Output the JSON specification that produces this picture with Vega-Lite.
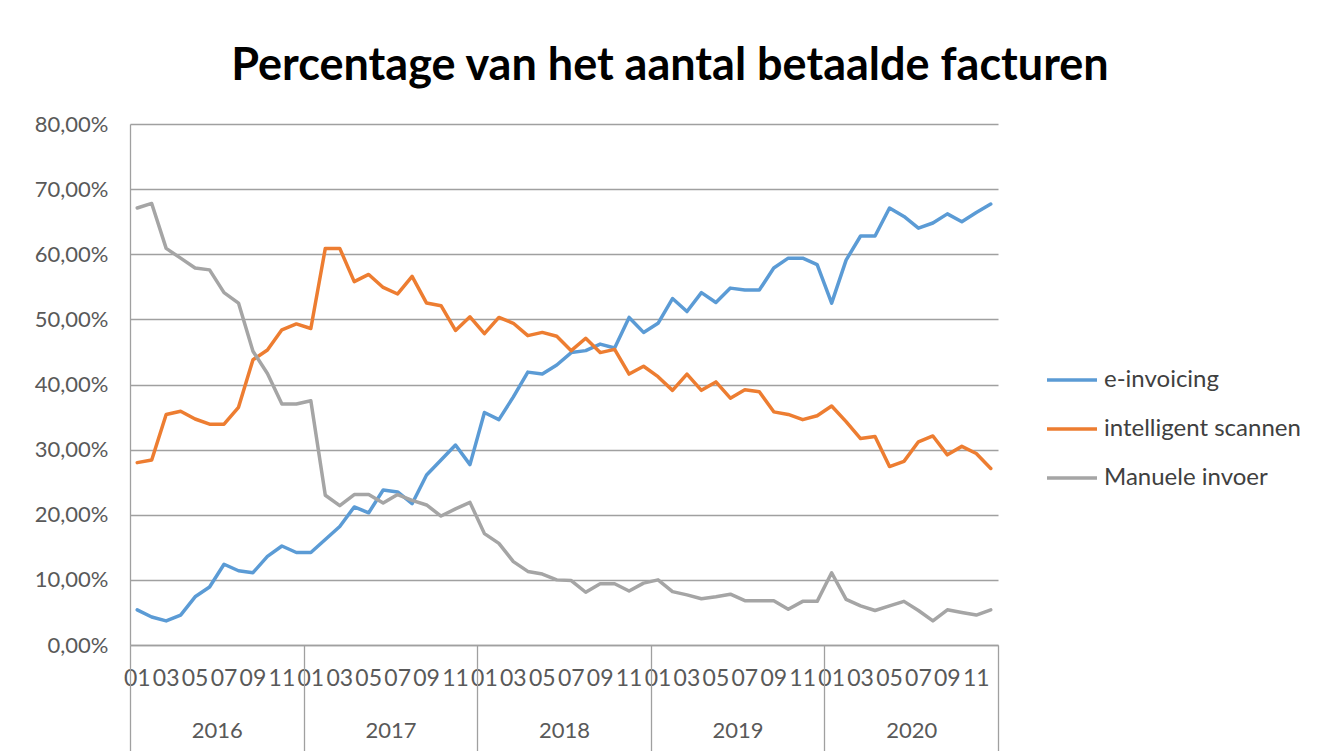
{
  "$schema": "https://vega.github.io/schema/vega-lite/v6.json",
  "autosize": "none",
  "width": 868,
  "height": 521,
  "padding": {"left": 130, "top": 124, "right": 326, "bottom": 106},
  "background": "white",
  "title": {
    "text": "Percentage van het aantal betaalde facturen",
    "anchor": "middle",
    "frame": "group",
    "dx": 106,
    "offset": 24,
    "font": "Lato",
    "fontSize": 45,
    "fontWeight": "bold",
    "color": "#000000"
  },
  "data": {
    "values": [
      {"month": "2016-01", "year": "2016", "e-invoicing": 5.4, "intelligent scannen": 28.0, "Manuele invoer": 67.1},
      {"month": "2016-02", "year": "2016", "e-invoicing": 4.3, "intelligent scannen": 28.4, "Manuele invoer": 67.8},
      {"month": "2016-03", "year": "2016", "e-invoicing": 3.7, "intelligent scannen": 35.4, "Manuele invoer": 60.9},
      {"month": "2016-04", "year": "2016", "e-invoicing": 4.6, "intelligent scannen": 35.9, "Manuele invoer": 59.4},
      {"month": "2016-05", "year": "2016", "e-invoicing": 7.4, "intelligent scannen": 34.7, "Manuele invoer": 57.9},
      {"month": "2016-06", "year": "2016", "e-invoicing": 8.9, "intelligent scannen": 33.9, "Manuele invoer": 57.6},
      {"month": "2016-07", "year": "2016", "e-invoicing": 12.4, "intelligent scannen": 33.9, "Manuele invoer": 54.1},
      {"month": "2016-08", "year": "2016", "e-invoicing": 11.4, "intelligent scannen": 36.5, "Manuele invoer": 52.5},
      {"month": "2016-09", "year": "2016", "e-invoicing": 11.1, "intelligent scannen": 43.8, "Manuele invoer": 45.1},
      {"month": "2016-10", "year": "2016", "e-invoicing": 13.6, "intelligent scannen": 45.3, "Manuele invoer": 41.7},
      {"month": "2016-11", "year": "2016", "e-invoicing": 15.2, "intelligent scannen": 48.4, "Manuele invoer": 37.0},
      {"month": "2016-12", "year": "2016", "e-invoicing": 14.2, "intelligent scannen": 49.3, "Manuele invoer": 37.0},
      {"month": "2017-01", "year": "2017", "e-invoicing": 14.2, "intelligent scannen": 48.6, "Manuele invoer": 37.5},
      {"month": "2017-02", "year": "2017", "e-invoicing": 16.2, "intelligent scannen": 60.9, "Manuele invoer": 23.0},
      {"month": "2017-03", "year": "2017", "e-invoicing": 18.2, "intelligent scannen": 60.9, "Manuele invoer": 21.4},
      {"month": "2017-04", "year": "2017", "e-invoicing": 21.2, "intelligent scannen": 55.8, "Manuele invoer": 23.1},
      {"month": "2017-05", "year": "2017", "e-invoicing": 20.3, "intelligent scannen": 56.9, "Manuele invoer": 23.1},
      {"month": "2017-06", "year": "2017", "e-invoicing": 23.8, "intelligent scannen": 54.9, "Manuele invoer": 21.8},
      {"month": "2017-07", "year": "2017", "e-invoicing": 23.5, "intelligent scannen": 53.9, "Manuele invoer": 23.1},
      {"month": "2017-08", "year": "2017", "e-invoicing": 21.7, "intelligent scannen": 56.6, "Manuele invoer": 22.2},
      {"month": "2017-09", "year": "2017", "e-invoicing": 26.1, "intelligent scannen": 52.5, "Manuele invoer": 21.5},
      {"month": "2017-10", "year": "2017", "e-invoicing": 28.4, "intelligent scannen": 52.1, "Manuele invoer": 19.8},
      {"month": "2017-11", "year": "2017", "e-invoicing": 30.7, "intelligent scannen": 48.3, "Manuele invoer": 20.9},
      {"month": "2017-12", "year": "2017", "e-invoicing": 27.7, "intelligent scannen": 50.4, "Manuele invoer": 21.9},
      {"month": "2018-01", "year": "2018", "e-invoicing": 35.7, "intelligent scannen": 47.8, "Manuele invoer": 17.1},
      {"month": "2018-02", "year": "2018", "e-invoicing": 34.6, "intelligent scannen": 50.3, "Manuele invoer": 15.6},
      {"month": "2018-03", "year": "2018", "e-invoicing": 38.1, "intelligent scannen": 49.4, "Manuele invoer": 12.8},
      {"month": "2018-04", "year": "2018", "e-invoicing": 41.9, "intelligent scannen": 47.5, "Manuele invoer": 11.3},
      {"month": "2018-05", "year": "2018", "e-invoicing": 41.6, "intelligent scannen": 48.0, "Manuele invoer": 10.9},
      {"month": "2018-06", "year": "2018", "e-invoicing": 43.0, "intelligent scannen": 47.4, "Manuele invoer": 10.0},
      {"month": "2018-07", "year": "2018", "e-invoicing": 44.9, "intelligent scannen": 45.2, "Manuele invoer": 9.9},
      {"month": "2018-08", "year": "2018", "e-invoicing": 45.2, "intelligent scannen": 47.1, "Manuele invoer": 8.1},
      {"month": "2018-09", "year": "2018", "e-invoicing": 46.2, "intelligent scannen": 44.9, "Manuele invoer": 9.4},
      {"month": "2018-10", "year": "2018", "e-invoicing": 45.6, "intelligent scannen": 45.4, "Manuele invoer": 9.4},
      {"month": "2018-11", "year": "2018", "e-invoicing": 50.3, "intelligent scannen": 41.6, "Manuele invoer": 8.3},
      {"month": "2018-12", "year": "2018", "e-invoicing": 48.0, "intelligent scannen": 42.8, "Manuele invoer": 9.5},
      {"month": "2019-01", "year": "2019", "e-invoicing": 49.4, "intelligent scannen": 41.2, "Manuele invoer": 10.0},
      {"month": "2019-02", "year": "2019", "e-invoicing": 53.2, "intelligent scannen": 39.1, "Manuele invoer": 8.2},
      {"month": "2019-03", "year": "2019", "e-invoicing": 51.2, "intelligent scannen": 41.6, "Manuele invoer": 7.7},
      {"month": "2019-04", "year": "2019", "e-invoicing": 54.1, "intelligent scannen": 39.1, "Manuele invoer": 7.1},
      {"month": "2019-05", "year": "2019", "e-invoicing": 52.6, "intelligent scannen": 40.4, "Manuele invoer": 7.4},
      {"month": "2019-06", "year": "2019", "e-invoicing": 54.8, "intelligent scannen": 37.9, "Manuele invoer": 7.8},
      {"month": "2019-07", "year": "2019", "e-invoicing": 54.5, "intelligent scannen": 39.2, "Manuele invoer": 6.8},
      {"month": "2019-08", "year": "2019", "e-invoicing": 54.5, "intelligent scannen": 38.9, "Manuele invoer": 6.8},
      {"month": "2019-09", "year": "2019", "e-invoicing": 57.9, "intelligent scannen": 35.8, "Manuele invoer": 6.8},
      {"month": "2019-10", "year": "2019", "e-invoicing": 59.4, "intelligent scannen": 35.4, "Manuele invoer": 5.5},
      {"month": "2019-11", "year": "2019", "e-invoicing": 59.4, "intelligent scannen": 34.6, "Manuele invoer": 6.7},
      {"month": "2019-12", "year": "2019", "e-invoicing": 58.4, "intelligent scannen": 35.2, "Manuele invoer": 6.7},
      {"month": "2020-01", "year": "2020", "e-invoicing": 52.5, "intelligent scannen": 36.7, "Manuele invoer": 11.1},
      {"month": "2020-02", "year": "2020", "e-invoicing": 59.1, "intelligent scannen": 34.3, "Manuele invoer": 7.0},
      {"month": "2020-03", "year": "2020", "e-invoicing": 62.8, "intelligent scannen": 31.7, "Manuele invoer": 6.0},
      {"month": "2020-04", "year": "2020", "e-invoicing": 62.8, "intelligent scannen": 32.0, "Manuele invoer": 5.3},
      {"month": "2020-05", "year": "2020", "e-invoicing": 67.1, "intelligent scannen": 27.4, "Manuele invoer": 6.0},
      {"month": "2020-06", "year": "2020", "e-invoicing": 65.8, "intelligent scannen": 28.2, "Manuele invoer": 6.7},
      {"month": "2020-07", "year": "2020", "e-invoicing": 64.0, "intelligent scannen": 31.2, "Manuele invoer": 5.3},
      {"month": "2020-08", "year": "2020", "e-invoicing": 64.8, "intelligent scannen": 32.1, "Manuele invoer": 3.7},
      {"month": "2020-09", "year": "2020", "e-invoicing": 66.2, "intelligent scannen": 29.2, "Manuele invoer": 5.4},
      {"month": "2020-10", "year": "2020", "e-invoicing": 65.0, "intelligent scannen": 30.5, "Manuele invoer": 5.0},
      {"month": "2020-11", "year": "2020", "e-invoicing": 66.4, "intelligent scannen": 29.4, "Manuele invoer": 4.6},
      {"month": "2020-12", "year": "2020", "e-invoicing": 67.7, "intelligent scannen": 27.1, "Manuele invoer": 5.4}
    ]
  },
  "layer": [
    {
      "transform": [
        {"fold": ["e-invoicing", "intelligent scannen", "Manuele invoer"], "as": ["series", "value"]}
      ],
      "mark": {"type": "line", "strokeWidth": 3.5, "strokeJoin": "round", "strokeCap": "round"},
      "encoding": {
        "x": {
          "field": "month",
          "type": "ordinal",
          "scale": {"type": "band", "paddingInner": 0, "paddingOuter": 0},
          "axis": {
            "orient": "bottom",
            "title": null,
            "labelAngle": 0,
            "labelOverlap": false,
            "labelBound": false,
            "labelExpr": "toNumber(slice(datum.value, 5)) % 2 == 1 ? slice(datum.value, 5) : ''",
            "ticks": false,
            "grid": false,
            "domain": true,
            "domainColor": "#a0a0a0",
            "domainWidth": 1.3,
            "labelPadding": 22,
            "labelFont": "Lato",
            "labelFontSize": 23,
            "labelColor": "#595959"
          }
        },
        "y": {
          "field": "value",
          "type": "quantitative",
          "scale": {"domain": [0, 80], "nice": false, "zero": true},
          "axis": {
            "title": null,
            "values": [0, 10, 20, 30, 40, 50, 60, 70, 80],
            "labelExpr": "replace(format(datum.value, '.2f'), '.', ',') + '%'",
            "ticks": false,
            "grid": true,
            "gridColor": "#a0a0a0",
            "gridWidth": 1.3,
            "domain": true,
            "domainColor": "#a0a0a0",
            "domainWidth": 1.3,
            "labelPadding": 22,
            "labelFont": "Lato",
            "labelFontSize": 22,
            "labelColor": "#595959"
          }
        },
        "color": {
          "field": "series",
          "type": "nominal",
          "scale": {
            "domain": ["e-invoicing", "intelligent scannen", "Manuele invoer"],
            "range": ["#5B9BD5", "#ED7D31", "#A5A5A5"]
          },
          "legend": {
            "title": null,
            "orient": "none",
            "legendX": 915,
            "legendY": 229,
            "direction": "vertical",
            "symbolType": "stroke",
            "symbolSize": 2500,
            "symbolStrokeWidth": 3.5,
            "labelOffset": 5,
            "labelLimit": 0,
            "rowPadding": 10,
            "labelFont": "Lato",
            "labelFontSize": 24,
            "labelColor": "#404040"
          }
        }
      }
    },
    {
      "mark": {"type": "tick", "opacity": 0},
      "encoding": {
        "x": {
          "field": "year",
          "type": "ordinal",
          "scale": {"type": "band", "paddingInner": 0, "paddingOuter": 0},
          "axis": {
            "orient": "bottom",
            "title": null,
            "labelAngle": 0,
            "tickBand": "extent",
            "ticks": true,
            "tickSize": 106,
            "tickColor": "#a0a0a0",
            "tickWidth": 1.3,
            "domain": false,
            "grid": false,
            "labelPadding": -31,
            "labelFont": "Lato",
            "labelFontSize": 22,
            "labelColor": "#595959"
          }
        }
      }
    }
  ],
  "resolve": {"scale": {"x": "independent"}, "axis": {"x": "independent"}},
  "config": {
    "font": "Lato",
    "view": {"stroke": null}
  }
}
